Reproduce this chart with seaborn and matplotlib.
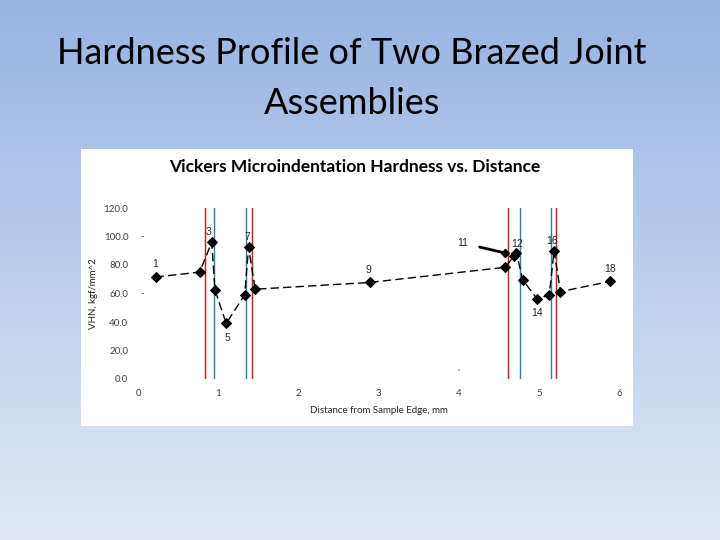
import numpy as np
import pandas as pd
import matplotlib
matplotlib.use('Agg')
import matplotlib.pyplot as plt
import seaborn as sns

# dados
dist = [0.22, 0.77, 0.92, 0.96, 1.10, 1.33, 1.38, 1.46, 2.89, 2.89,
        4.58, 4.69, 4.72, 4.80, 4.98, 5.13, 5.19, 5.27, 5.89]
vhn = [71.6, 75.0, 96.0, 62.5, 39.0, 59.0, 92.6, 63.0, 68.8, 66.7,
       78.4, 86.3, 88.6, 69.5, 56.1, 59.0, 90.0, 61.3, 68.5]

# rotulos dos pontos
lab_txt = ['1', '3', '5', '7', '9', '12', '14', '16', '18']
lab_x = [0.21, 0.885, 1.11, 1.36, 2.88, 4.73, 4.98, 5.17, 5.89]
lab_y = [80.7, 103.0, 28.8, 99.6, 76.5, 94.7, 46.3, 96.8, 77.2]
# ponto 11 com seta
p11_x, p11_y = 4.58, 88.4
p11_txt_x, p11_txt_y = 4.05, 95.4

# linhas verticais das juntas
red_lines = [0.835, 1.425, 4.617, 5.22]
blue_lines = [0.944, 1.343, 4.763, 5.146]

yticks = [0, 20, 40, 60, 80, 100, 120]
xticks = [0, 1, 2, 3, 4, 5, 6]

sns.set_theme(style='white')
plt.rcParams['font.family'] = ['Lato', 'DejaVu Sans']

fig = plt.figure(figsize=(7.2, 5.4), dpi=100)

# fundo em degrade
bg = fig.add_axes([0, 0, 1, 1])
grad = np.linspace(0, 1, 256)[:, None]
top = np.array([152, 180, 226]) / 255
bot = np.array([226, 232, 245]) / 255
img = top[None, None, :] * (1 - grad[:, :, None]) + bot[None, None, :] * grad[:, :, None]
bg.imshow(img, aspect='auto', extent=[0, 1, 0, 1])
bg.set_axis_off()

fig.text(0.489, 0.9, 'Hardness Profile of Two Brazed Joint', ha='center', va='center',
         fontsize=26, color='black')
fig.text(0.489, 0.808, 'Assemblies', ha='center', va='center', fontsize=26, color='black')

# painel branco do grafico
panel = fig.add_axes([81/720, 1 - 426/540, 552/720, 277/540])
panel.set_facecolor('white')
panel.set_xticks([]); panel.set_yticks([])
for s in panel.spines.values():
    s.set_visible(False)
panel.text(0.495, 0.935, 'Vickers Microindentation Hardness vs. Distance', ha='center', va='center',
           fontsize=12.5, fontweight='bold', color='black', transform=panel.transAxes)

ax = fig.add_axes([138/720, 1 - 379/540, 481/720, 171/540])
ax.patch.set_alpha(0)

for xv in red_lines:
    ax.axvline(xv, color='#FADCDC', lw=2.2, zorder=1)
    ax.axvline(xv, color='#A83232', lw=0.9, zorder=2)
for xv in blue_lines:
    ax.axvline(xv, color='#2E7FA0', lw=1.0, zorder=2)

df = pd.DataFrame({'dist': dist, 'vhn': vhn})
sns.lineplot(data=df, x='dist', y='vhn', sort=False, color='black', lw=1,
             linestyle=(0, (6, 3)), marker='D', markersize=5, markeredgecolor='black', ax=ax, zorder=3)

for t, xv, yv in zip(lab_txt, lab_x, lab_y):
    ax.text(xv, yv, t, ha='center', va='center', fontsize=7.5, family='Liberation Sans')
ax.annotate('11', xy=(p11_x, p11_y), xytext=(p11_txt_x, p11_txt_y), ha='center', va='center',
            fontsize=7.5, family='Liberation Sans',
            arrowprops=dict(arrowstyle='-', lw=2, color='black', shrinkA=6, shrinkB=0))
ax.plot([p11_x], [p11_y], marker='D', color='black', markersize=4.5, zorder=4)

# pequenos tracos soltos
ax.text(0.03, 100, '-', fontsize=7, color='#404040', va='center')
ax.text(0.03, 60, '-', fontsize=7, color='#404040', va='center')
ax.text(4.0, 2.5, "'", fontsize=7, color='#404040', ha='center')

ax.set_xlim(0, 6)
ax.set_ylim(0, 120)
ax.set_xticks(xticks)
ax.set_xticklabels([str(v) for v in xticks], fontsize=7, color='#404040')
ax.set_yticks(yticks)
ax.set_yticklabels(['%.1f' % v for v in yticks], fontsize=7, color='#404040')
ax.tick_params(length=0, pad=7)
for s in ax.spines.values():
    s.set_visible(False)
ax.set_xlabel('Distance from Sample Edge, mm', fontsize=7, labelpad=6)
ax.set_ylabel('VHN, kgf/mm^2', fontsize=7, labelpad=4)

plt.savefig('out.png', dpi=100)
